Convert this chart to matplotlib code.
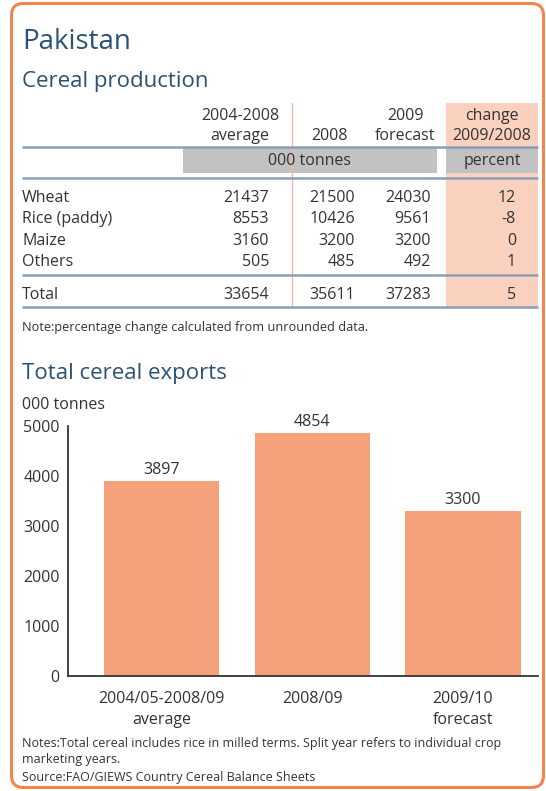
import matplotlib
matplotlib.use("Agg")
import matplotlib.pyplot as plt
from matplotlib.patches import FancyBboxPatch, Rectangle

plt.rcParams["font.family"] = ["Open Sans", "DejaVu Sans"]

# Данные таблицы производства зерна
crops = ["Wheat", "Rice (paddy)", "Maize", "Others"]
avg_0408 = [21437, 8553, 3160, 505]
prod_2008 = [21500, 10426, 3200, 485]
prod_2009 = [24030, 9561, 3200, 492]
change_pct = [12, -8, 0, 1]
total_row = [33654, 35611, 37283]
total_change = 5

# Данные экспорта
export_labels = ["2004/05-2008/09\naverage", "2008/09", "2009/10\nforecast"]
export_values = [3897, 4854, 3300]
export_ticks = [0, 1000, 2000, 3000, 4000, 5000]

W, H = 546, 791
TITLE = "#2b5276"
TEXT = "#333333"
ORANGE = "#f0864e"
PINK = "#fad0bf"
BAR = "#f5a27c"
GREY = "#c2c2c2"
RULE = "#8a9fb6"

fig = plt.figure(figsize=(W / 100, H / 100), dpi=100)
bg = fig.add_axes([0, 0, 1, 1])
bg.set_xlim(0, W)
bg.set_ylim(H, 0)
bg.axis("off")

# Рамка
bg.add_patch(FancyBboxPatch((11.5, 3.5), 532, 784, boxstyle="round,pad=0,rounding_size=12",
                            fill=False, edgecolor=ORANGE, linewidth=2.2))

bg.text(22, 42, "Pakistan", fontsize=20, color=TITLE, va="center")
bg.text(22, 82, "Cereal production", fontsize=16, color=TITLE, va="center")

# Фон таблицы
bg.add_patch(Rectangle((446, 103), 92, 204, facecolor=PINK, edgecolor="none"))
bg.add_patch(Rectangle((183, 148), 254, 25, facecolor=GREY, edgecolor="none"))
bg.add_patch(Rectangle((446, 148), 92, 25, facecolor=GREY, edgecolor="none"))
bg.plot([292, 292], [103, 307], color="#f4b79e", linewidth=0.9)
for yy in [147, 178, 275, 307]:
    bg.plot([22, 538], [yy, yy], color=RULE, linewidth=1.8, solid_capstyle="butt")

fs = 11.5
hdr = dict(fontsize=fs, color=TEXT, ha="center", va="center", linespacing=1.3)
bg.text(240, 126, "2004-2008\naverage", **hdr)
bg.text(330, 136, "2008", **hdr)
bg.text(405, 126, "2009\nforecast", **hdr)
bg.text(492, 126, "change\n2009/2008", **hdr)
bg.text(310, 161, "000 tonnes", **hdr)
bg.text(492, 161, "percent", **hdr)

col_x = [269, 355, 431, 516]
row_y = [198, 219, 241, 262]
for i, name in enumerate(crops):
    y = row_y[i]
    bg.text(22, y, name, fontsize=fs, color=TEXT, va="center")
    for x, v in zip(col_x, [avg_0408[i], prod_2008[i], prod_2009[i], change_pct[i]]):
        bg.text(x, y, str(v), fontsize=fs, color=TEXT, ha="right", va="center")

bg.text(22, 295, "Total", fontsize=fs, color=TEXT, va="center")
for x, v in zip(col_x, total_row + [total_change]):
    bg.text(x, 295, str(v), fontsize=fs, color=TEXT, ha="right", va="center")

bg.text(22, 327, "Note:percentage change calculated from unrounded data.", fontsize=9.2,
        color=TEXT, va="center")

bg.text(22, 373, "Total cereal exports", fontsize=16, color=TITLE, va="center")
bg.text(22, 405, "000 tonnes", fontsize=fs, color=TEXT, va="center")

# График экспорта
ax = fig.add_axes([68 / W, 1 - 676 / H, 470 / W, 250 / H])
ax.patch.set_alpha(0)
x = range(len(export_values))
bars = ax.bar(x, export_values, width=0.766, color=BAR)
for b, v in zip(bars, export_values):
    ax.text(b.get_x() + b.get_width() / 2, v + 60, str(v), fontsize=fs, color=TEXT,
            ha="center", va="bottom")
ax.set_xlim(-0.62, 2.497)
ax.set_ylim(0, 5000)
ax.set_yticks(export_ticks)
ax.set_xticks(list(x))
ax.set_xticklabels(export_labels, linespacing=1.38)
ax.tick_params(length=0, labelsize=fs, labelcolor=TEXT)
ax.tick_params(axis="y", pad=6)
ax.tick_params(axis="x", pad=11)
for s in ["top", "right"]:
    ax.spines[s].set_visible(False)
for s in ["left", "bottom"]:
    ax.spines[s].set_color("#333333")
    ax.spines[s].set_linewidth(1.3)

bg.text(22, 760, "Notes:Total cereal includes rice in milled terms. Split year refers to individual crop\n"
        "marketing years.\nSource:FAO/GIEWS Country Cereal Balance Sheets",
        fontsize=9, color=TEXT, va="center", linespacing=1.4)

fig.savefig("out.png", dpi=100)
